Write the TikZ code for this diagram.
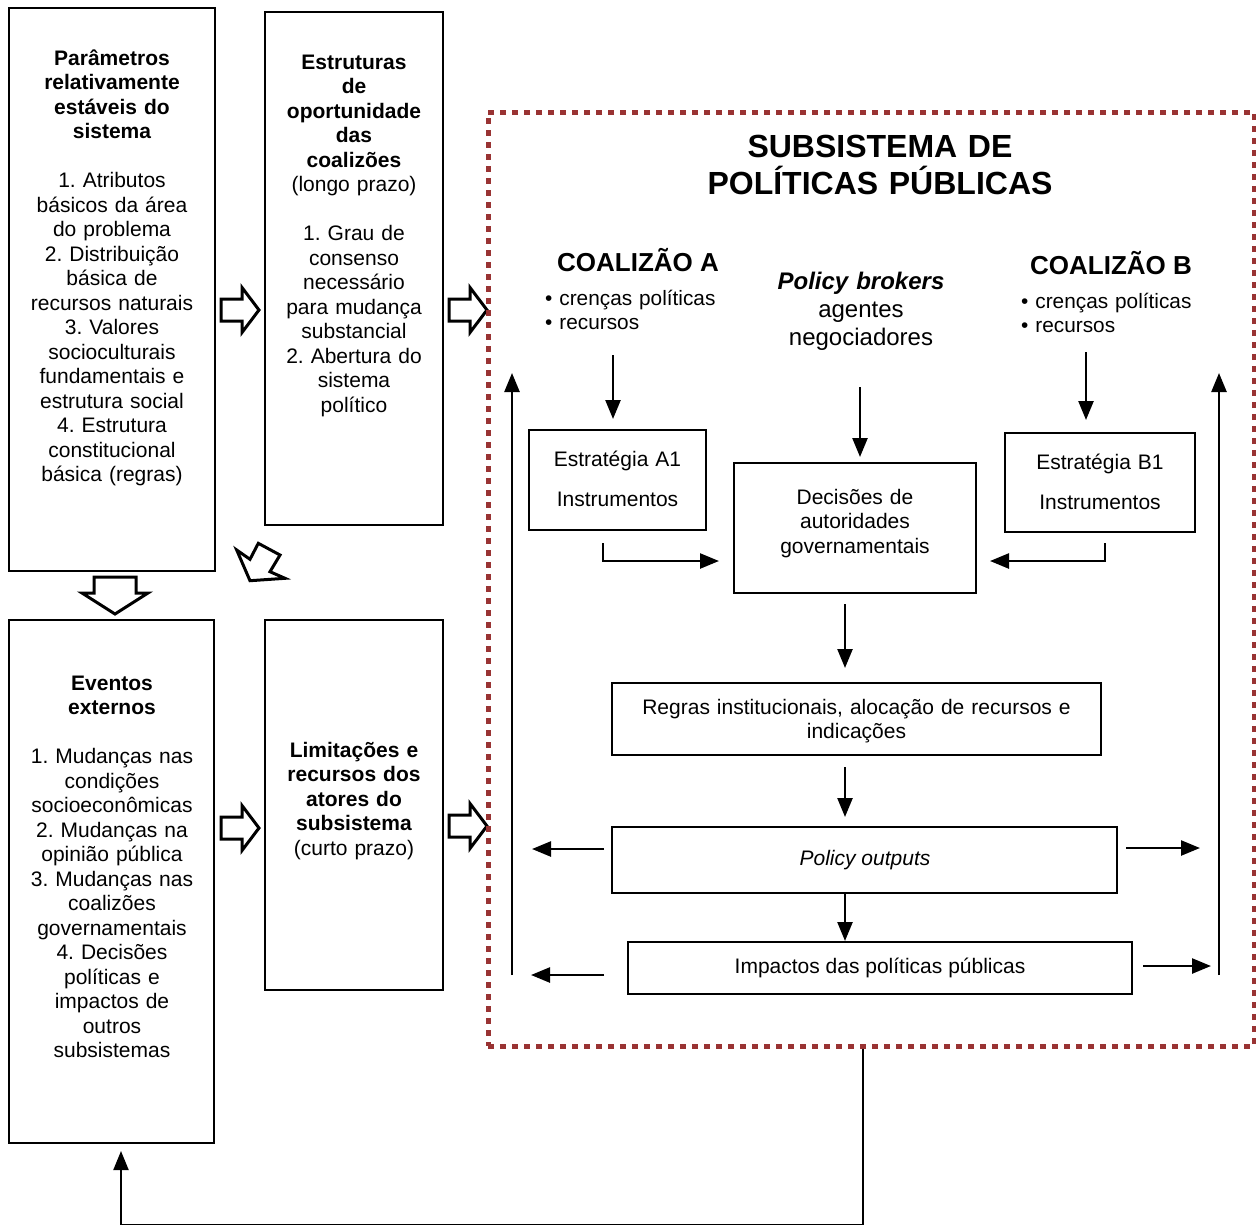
\documentclass[tikz,border=0pt]{standalone}
\usepackage{fontspec}
\setmainfont{Liberation Sans}
\usetikzlibrary{arrows.meta}
\definecolor{dotred}{RGB}{153,51,51}
\frenchspacing
\tikzset{
 box/.style={draw, line width=2pt, inner sep=0pt},
 arr/.style={line width=2.5pt, -{Triangle[length=19pt,width=15pt]}},
 hol/.style={draw, line width=3pt, fill=white, line join=miter},
 txt/.style={inner sep=0pt, align=center, font=\fontsize{21}{24.5}\selectfont},
}
\newcommand\hollowR[2]{\draw[hol] (#1,#2) ++(0,-11) -- ++(21,0) -- ++(0,-11.5) -- ++(17,22.5) -- ++(-17,22.5) -- ++(0,-11.5) -- ++(-21,0) -- cycle;}
\begin{document}
\begin{tikzpicture}[x=1pt,y=-1pt]
\useasboundingbox (0,0) rectangle (1256,1224);
% left boxes
\node[box, minimum width=206pt, minimum height=563pt] (b1) at (112,289.5) {};
\node[box, minimum width=178pt, minimum height=513pt] (b2) at (354,268.5) {};
\node[box, minimum width=205pt, minimum height=523pt] (b3) at (111.5,881.5) {};
\node[box, minimum width=178pt, minimum height=370pt] (b4) at (354,805) {};
\node[txt, text width=200pt, anchor=base] (t1) at (112,65) {{\bfseries Parâmetros\\relativamente\\estáveis do\\sistema}\\[24.5pt]1. Atributos\\básicos da área\\do problema\\2. Distribuição\\básica de\\recursos naturais\\3. Valores\\socioculturais\\fundamentais e\\estrutura social\\4. Estrutura\\constitucional\\básica (regras)};
\node[txt, text width=176pt, anchor=base] (t2) at (354,69) {{\bfseries Estruturas\\de\\oportunidade\\das\\coalizões}\\(longo prazo)\\[24.5pt]1. Grau de\\consenso\\necessário\\para mudança\\substancial\\2. Abertura do\\sistema\\político};
\node[txt, text width=200pt, anchor=base] (t3) at (112,690) {{\bfseries Eventos\\externos}\\[24.5pt]1. Mudanças nas\\condições\\socioeconômicas\\2. Mudanças na\\opinião pública\\3. Mudanças nas\\coalizões\\governamentais\\4. Decisões\\políticas e\\impactos de\\outros\\subsistemas};
\node[txt, text width=176pt, anchor=base] (t4) at (354,757) {{\bfseries Limitações e\\recursos dos\\atores do\\subsistema}\\(curto prazo)};
% hollow arrows
\hollowR{221}{310}
\hollowR{449}{310}
\hollowR{221}{828}
\hollowR{449}{826}
\draw[hol] (94,577) -- (136,577) -- (136,593) -- (148,593) -- (115,614) -- (82,593) -- (94,593) -- cycle;
\draw[hol] (258.3,543.3) -- (280,555) -- (270,571.7) -- (285,578.3) -- (250,580.7) -- (236.7,550) -- (250,559.3) -- cycle;
% subsystem
\node[draw=dotred, line width=5pt, dash pattern=on 6pt off 6pt, minimum width=766pt, minimum height=934pt, inner sep=0pt] (sub) at (871,579) {};
\node[txt, font=\fontsize{32}{37}\selectfont\bfseries, text width=500pt, anchor=base] (title) at (880,157.5) {SUBSISTEMA DE\\POLÍTICAS PÚBLICAS};
\node[inner sep=0pt, font=\fontsize{26}{30}\selectfont\bfseries, anchor=base] (cA) at (638,271) {COALIZÃO A};
\node[inner sep=0pt, font=\fontsize{26}{30}\selectfont\bfseries, anchor=base] (cB) at (1111,274) {COALIZÃO B};
\node[anchor=base west, inner sep=0pt, align=left, font=\fontsize{20.8}{24.5}\selectfont, text width=210pt] (bA) at (545,305) {• crenças políticas\\• recursos};
\node[anchor=base west, inner sep=0pt, align=left, font=\fontsize{20.8}{24.5}\selectfont, text width=210pt] (bB) at (1021,308) {• crenças políticas\\• recursos};
\node[txt, font=\fontsize{24}{28}\selectfont, text width=240pt, anchor=base] (pb) at (861,289) {\textbf{\textit{Policy brokers}}\\agentes\\negociadores};
% inner boxes
\node[box, minimum width=177pt, minimum height=100pt] (sA) at (617.5,480) {};
\node[box, minimum width=190pt, minimum height=99pt] (sB) at (1100,482.5) {};
\node[box, minimum width=242pt, minimum height=130pt] (dec) at (855,528) {};
\node[box, minimum width=489pt, minimum height=72pt] (reg) at (856.5,719) {};
\node[box, minimum width=505pt, minimum height=66pt] (out) at (864.5,860) {};
\node[box, minimum width=504pt, minimum height=52pt] (imp) at (880,968) {};
\node[txt, text width=170pt, anchor=base] (sAt) at (617.5,466) {Estratégia A1\\[15.5pt]Instrumentos};
\node[txt, text width=185pt, anchor=base] (sBt) at (1100,469) {Estratégia B1\\[15.5pt]Instrumentos};
\node[txt, text width=236pt, anchor=base] (dect) at (855,504) {Decisões de\\autoridades\\governamentais};
\node[txt, text width=480pt, anchor=base] (regt) at (856.5,714) {Regras institucionais, alocação de recursos e\\indicações};
\node[txt, anchor=base] (outt) at (865,865) {\textit{Policy outputs}};
\node[txt, anchor=base] (impt) at (880,973) {Impactos das políticas públicas};
% connectors
\coordinate (aS) at (613,355);
\draw[arr, shorten >=10pt] (aS) -- (aS |- sA.north);
\coordinate (pS) at (860,387);
\draw[arr, shorten >=5pt] (pS) -- (pS |- dec.north);
\coordinate (bS) at (1086,352);
\draw[arr, shorten >=12pt] (bS) -- (bS |- sB.north);
\draw[arr, shorten >=14pt] ([xshift=-14.5pt,yshift=-12pt]sA.south) |- ([yshift=-33pt]dec.west);
\draw[arr, shorten >=13pt] ([xshift=5pt,yshift=-10pt]sB.south) |- ([yshift=-33pt]dec.east);
\coordinate (v1) at (845,604);
\draw[arr, shorten >=14pt] (v1) -- (v1 |- reg.north);
\coordinate (v2) at (845,767);
\draw[arr, shorten >=9pt] (v2) -- (v2 |- out.north);
\coordinate (v3) at (845,893);
\draw[arr] (v3 |- out.south) -- (v3 |- imp.north);
\coordinate (oL) at (532,849);
\draw[arr, shorten <=7pt] (out.west |- oL) -- (oL);
\coordinate (oR) at (1200,848);
\draw[arr, shorten <=8pt] (out.east |- oR) -- (oR);
\coordinate (iL) at (531,975);
\draw[arr, shorten <=23pt] (imp.west |- iL) -- (iL);
\coordinate (iR) at (1211,966);
\draw[arr, shorten <=10pt] (imp.east |- iR) -- (iR);
\coordinate (lB) at (512,975);
\coordinate (lT) at (512,373);
\draw[arr] (lB) -- (lT);
\coordinate (rB) at (1219,975);
\coordinate (rT) at (1219,373);
\draw[arr] (rB) -- (rT);
\draw[arr, line width=2pt] ([xshift=-8pt]sub.south) -- ++(0,176) -| ([xshift=9.5pt,yshift=-7pt]b3.south);
\end{tikzpicture}
\end{document}
